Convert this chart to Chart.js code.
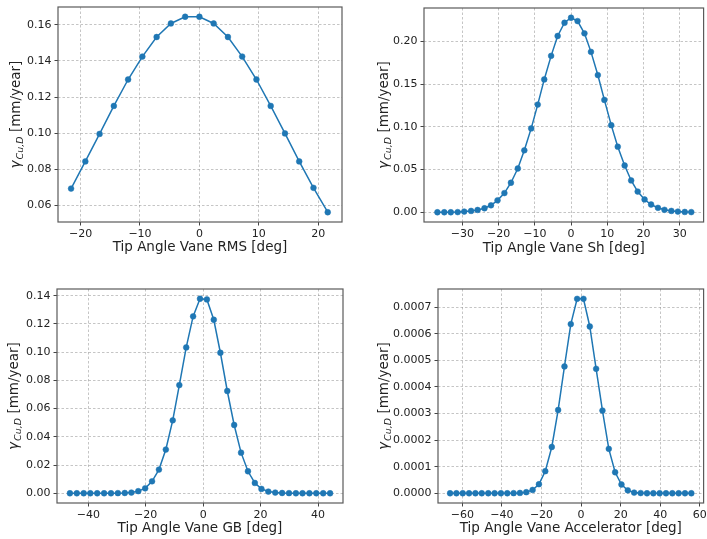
<!DOCTYPE html>
<html>
<head>
<meta charset="utf-8">
<script src="https://cdn.jsdelivr.net/npm/chart.js@4/dist/chart.umd.min.js"></script>
<style>
  html, body { margin: 0; padding: 0; background: #ffffff; }
  #wrap { position: relative; width: 707px; height: 539px; overflow: hidden; background: #fff; }
  #wrap canvas { position: absolute; }
</style>
</head>
<body>
<div id="wrap">
  <canvas id="c1" width="353" height="270" style="left:0px;top:0px;width:353px;height:270px"></canvas>
  <canvas id="c2" width="354" height="270" style="left:353px;top:0px;width:354px;height:270px"></canvas>
  <canvas id="c3" width="353" height="269" style="left:0px;top:270px;width:353px;height:269px"></canvas>
  <canvas id="c4" width="354" height="269" style="left:353px;top:270px;width:354px;height:269px"></canvas>
</div>
<script>
// ---------- Data ----------
const rmsAngle = [-21.6, -19.2, -16.8, -14.4, -12.0, -9.6, -7.2, -4.8, -2.4, 0.0, 2.4, 4.8, 7.2, 9.6, 12.0, 14.4, 16.8, 19.2, 21.6];
const rmsRate  = [0.0694, 0.0844, 0.0996, 0.1151, 0.1297, 0.1424, 0.1532, 0.1607, 0.1644, 0.1644, 0.1607, 0.1532, 0.1424, 0.1297, 0.1151, 0.0999, 0.0844, 0.0698, 0.0563];

const shAngle = [-36.9, -35.0, -33.2, -31.3, -29.5, -27.6, -25.8, -23.9, -22.1, -20.3, -18.4, -16.6, -14.7, -12.9, -11.0, -9.2, -7.4, -5.5, -3.7, -1.8, 0.0, 1.8, 3.7, 5.5, 7.4, 9.2, 11.1, 12.9, 14.8, 16.6, 18.4, 20.3, 22.1, 24.0, 25.8, 27.7, 29.5, 31.4, 33.2];
const shRate  = [0.0000, 0.0000, 0.0000, 0.0002, 0.0008, 0.0016, 0.0027, 0.0047, 0.0082, 0.0140, 0.0225, 0.0346, 0.0513, 0.0726, 0.0983, 0.1262, 0.1557, 0.1833, 0.2066, 0.2221, 0.2280, 0.2241, 0.2097, 0.1880, 0.1608, 0.1317, 0.1021, 0.0769, 0.0548, 0.0373, 0.0243, 0.0150, 0.0091, 0.0052, 0.0029, 0.0016, 0.0008, 0.0004, 0.0002];

const gbAngle = [-46.4, -44.0, -41.6, -39.3, -36.9, -34.5, -32.1, -29.7, -27.3, -25.0, -22.6, -20.2, -17.8, -15.4, -13.0, -10.6, -8.3, -5.9, -3.5, -1.1, 1.3, 3.7, 6.0, 8.4, 10.8, 13.2, 15.6, 18.0, 20.3, 22.7, 25.1, 27.5, 29.9, 32.3, 34.6, 37.0, 39.4, 41.8, 44.2];
const gbRate  = [0, 0, 0, 0, 0, 0, 0, 0.0001, 0.0002, 0.0005, 0.0015, 0.0035, 0.0085, 0.0168, 0.0310, 0.0517, 0.0767, 0.1034, 0.1254, 0.1379, 0.1374, 0.1230, 0.0996, 0.0725, 0.0484, 0.0288, 0.0156, 0.0073, 0.0031, 0.0012, 0.0005, 0.0002, 0.0001, 0, 0, 0, 0, 0, 0];

const accAngle = [-66.2, -63.0, -59.8, -56.6, -53.4, -50.2, -46.9, -43.7, -40.5, -37.3, -34.1, -30.9, -27.7, -24.5, -21.3, -18.1, -14.8, -11.6, -8.4, -5.2, -2.0, 1.2, 4.4, 7.6, 10.8, 14.0, 17.2, 20.4, 23.6, 26.8, 30.1, 33.3, 36.5, 39.7, 42.9, 46.1, 49.3, 52.5, 55.7];
const accRate  = [0, 0, 0, 0, 0, 0, 0, 0, 0, 0, 0.0000005, 0.0000013, 0.000004, 0.0000125, 0.000034, 0.000083, 0.000174, 0.000313, 0.000477, 0.000636, 0.000731, 0.000731, 0.000627, 0.000468, 0.000311, 0.000167, 0.000079, 0.000033, 0.000011, 0.0000025, 0.0000008, 0, 0, 0, 0, 0, 0, 0, 0];

// ---------- Tick labels ----------
const rmsXTicks = [-20, -10, 0, 10, 20];
const rmsYTicks = [0.06, 0.08, 0.10, 0.12, 0.14, 0.16];
const shXTicks  = [-30, -20, -10, 0, 10, 20, 30];
const shYTicks  = [0.00, 0.05, 0.10, 0.15, 0.20];
const gbXTicks  = [-40, -20, 0, 20, 40];
const gbYTicks  = [0.00, 0.02, 0.04, 0.06, 0.08, 0.10, 0.12, 0.14];
const accXTicks = [-60, -40, -20, 0, 20, 40, 60];
const accYTicks = [0.0000, 0.0001, 0.0002, 0.0003, 0.0004, 0.0005, 0.0006, 0.0007];

const xTitles = ['Tip Angle Vane RMS [deg]', 'Tip Angle Vane Sh [deg]', 'Tip Angle Vane GB [deg]', 'Tip Angle Vane Accelerator [deg]'];
const yTitleMain = '\u03B3';
const yTitleSub = 'Cu,D';
const yTitleRest = ' [mm/year]';

// ---------- Styling ----------
const FONT = "'DejaVu Sans', 'Liberation Sans', sans-serif";
const BLUE = '#1f77b4';
const TEXT = '#222222';

function fmtX(v) {
  return v < 0 ? '\u2212' + Math.abs(v) : String(v);
}

function makePanel(id, angles, rates, xTicks, yTicks, decimals, xr, yr, area, xTitle, titlePadBottom, yTitleX) {
  const canvas = document.getElementById(id);
  const W = canvas.width, H = canvas.height;
  const points = angles.map((a, i) => ({ x: a, y: rates[i] }));

  const framePlugin = {
    id: 'frame_' + id,
    afterDraw(chart) {
      const ctx = chart.ctx;
      const a = chart.chartArea;
      ctx.save();
      ctx.strokeStyle = '#5a5a5a';
      ctx.lineWidth = 1.2;
      ctx.strokeRect(a.left, a.top, a.right - a.left, a.bottom - a.top);
      // y-axis title with subscript (math-like)
      const cy = (a.top + a.bottom) / 2;
      ctx.translate(yTitleX, cy);
      ctx.rotate(-Math.PI / 2);
      const fMain = "italic 13.5px " + FONT;
      const fSub = "italic 9.5px " + FONT;
      const fRest = "13.5px " + FONT;
      ctx.font = fMain; const w1 = ctx.measureText(yTitleMain).width;
      ctx.font = fSub; const w2 = ctx.measureText(yTitleSub).width;
      ctx.font = fRest; const w3 = ctx.measureText(yTitleRest).width;
      const total = w1 + 1 + w2 + w3;
      let x = -total / 2;
      const base = 4.8;
      ctx.fillStyle = TEXT;
      ctx.textBaseline = 'alphabetic';
      ctx.textAlign = 'left';
      ctx.font = fMain; ctx.fillText(yTitleMain, x, base); x += w1 + 1;
      ctx.font = fSub; ctx.fillText(yTitleSub, x, base + 3); x += w2;
      ctx.font = fRest; ctx.fillText(yTitleRest, x, base);
      ctx.restore();
    }
  };

  return new Chart(canvas, {
    type: 'line',
    data: {
      datasets: [{
        data: points,
        borderColor: BLUE,
        backgroundColor: BLUE,
        borderWidth: 1.5,
        pointRadius: 2.9,
        pointBackgroundColor: BLUE,
        pointBorderColor: BLUE,
        pointBorderWidth: 0.5,
        pointHoverRadius: 2.9,
        tension: 0,
        fill: false
      }]
    },
    options: {
      responsive: false,
      animation: false,
      devicePixelRatio: 1,
      events: [],
      layout: { padding: { left: 0, top: area.t, right: W - area.r, bottom: 0 } },
      plugins: { legend: { display: false }, tooltip: { enabled: false }, title: { display: false } },
      scales: {
        x: {
          type: 'linear',
          min: xr[0], max: xr[1],
          afterBuildTicks: s => { s.ticks = xTicks.map(v => ({ value: v })); },
          afterFit: s => { s.height = H - area.b; s.paddingLeft = 0; s.paddingRight = 0; },
          ticks: {
            callback: v => fmtX(v),
            color: TEXT,
            font: { family: FONT, size: 11 },
            padding: 2,
            maxRotation: 0,
            autoSkip: false
          },
          grid: {
            color: 'rgba(150,150,150,0.55)',
            lineWidth: 1,
            drawTicks: true,
            tickLength: 3.5,
            tickColor: '#444444',
            tickWidth: 1,
            tickBorderDash: []
          },
          border: { display: false, dash: [2.5, 2] },
          title: {
            display: true,
            text: xTitle,
            color: TEXT,
            font: { family: FONT, size: 13.5, lineHeight: 1.2 },
            padding: { top: 0, bottom: titlePadBottom }
          }
        },
        y: {
          type: 'linear',
          min: yr[0], max: yr[1],
          afterBuildTicks: s => { s.ticks = yTicks.map(v => ({ value: v })); },
          afterFit: s => { s.width = area.l; s.paddingTop = 0; s.paddingBottom = 0; },
          ticks: {
            callback: v => Number(v).toFixed(decimals),
            color: TEXT,
            font: { family: FONT, size: 11 },
            padding: 3,
            autoSkip: false
          },
          grid: {
            color: 'rgba(150,150,150,0.55)',
            lineWidth: 1,
            drawTicks: true,
            tickLength: 3.5,
            tickColor: '#444444',
            tickWidth: 1,
            tickBorderDash: []
          },
          border: { display: false, dash: [2.5, 2] },
          title: { display: false }
        }
      }
    },
    plugins: [framePlugin]
  });
}

makePanel('c1', rmsAngle, rmsRate, rmsXTicks, rmsYTicks, 2, [-23.8, 24.0], [0.0509, 0.1698],
  { l: 58, t: 7, r: 342, b: 222 }, xTitles[0], 14.4, 15);
makePanel('c2', shAngle, shRate, shXTicks, shYTicks, 2, [-40.6, 36.6], [-0.0114, 0.2394],
  { l: 71, t: 8, r: 353, b: 222 }, xTitles[1], 13.9, 30);
makePanel('c3', gbAngle, gbRate, gbXTicks, gbYTicks, 2, [-50.9, 48.7], [-0.0069, 0.1448],
  { l: 57, t: 19, r: 343, b: 233 }, xTitles[2], 2.9, 13);
makePanel('c4', accAngle, accRate, accXTicks, accYTicks, 4, [-72.3, 61.9], [-0.0000366, 0.000768],
  { l: 85, t: 19, r: 353, b: 233 }, xTitles[3], 2.9, 30);
</script>
</body>
</html>
